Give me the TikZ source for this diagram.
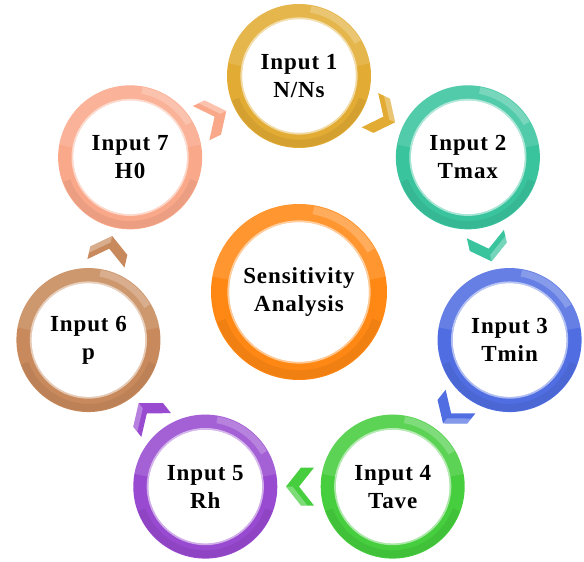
\documentclass[tikz,border=0pt]{standalone}
\usepackage{fontspec}
\setmainfont{Liberation Serif}
\newfontfamily\lblfont{Liberation Serif}[LetterSpace=4]
\usetikzlibrary{calc}
\definecolor{cGold}{RGB}{226,172,52}
\definecolor{cTeal}{RGB}{58,196,158}
\definecolor{cBlue}{RGB}{80,110,226}
\definecolor{cGreen}{RGB}{70,206,62}
\definecolor{cPurple}{RGB}{152,74,208}
\definecolor{cBrown}{RGB}{200,138,92}
\definecolor{cSalmon}{RGB}{250,168,138}
\definecolor{cOrange}{RGB}{255,136,20}
\begin{document}
\begin{tikzpicture}[x=1pt,y=1pt,
  ringnode/.style={circle, draw=#1, fill=white, line width=15pt, minimum size=129pt,
    inner sep=0pt, align=center, text=black,
    font=\lblfont\fontsize{23}{28}\selectfont\bfseries},
  chev/.pic={\fill[#1] (-15,-19) -- (0,0) -- (-15,19) -- (-2,19) -- (13,0) -- (-2,-19) -- cycle;
             \fill[white,opacity=0.3] (-2,19) -- (13,0) -- (6.5,0) -- (-8.5,19) -- cycle;},
]
\useasboundingbox (0,0) rectangle (584,562);
\coordinate (C) at (299,270);
\node[ringnode=cGold]   (n1) at ($(C)+(90:216)$) {Input 1\\N/Ns};
\node[ringnode=cTeal]   (n2) at ($(C)+(38.5714:216)$) {Input 2\\Tmax};
\node[ringnode=cBlue]   (n3) at ($(C)+(-12.8571:216)$) {Input 3\\Tmin};
\node[ringnode=cGreen]  (n4) at ($(C)+(-64.2857:216)$) {Input 4\\Tave};
\node[ringnode=cPurple] (n5) at ($(C)+(-115.7143:216)$) {Input 5\\Rh};
\node[ringnode=cBrown]  (n6) at ($(C)+(-167.1429:216)$) {Input 6\\p};
\node[ringnode=cSalmon] (n7) at ($(C)+(141.4286:216)$) {Input 7\\H0};
\node[ringnode=cOrange, line width=18pt, minimum size=158pt] (c0) at (C) {Sensitivity\\Analysis};
% gloss on rings
\foreach \n/\r/\w in {n1/64.5/15,n2/64.5/15,n3/64.5/15,n4/64.5/15,n5/64.5/15,n6/64.5/15,n7/64.5/15,c0/79/18} {
  \draw[white, opacity=0.12, line width=\w*1pt] (\n.center) ++(10:\r) arc[start angle=10, end angle=170, radius=\r];
  \draw[white, opacity=0.22, line width=\w*0.45pt] (\n.center) ++(30:\r+\w*0.22) arc[start angle=30, end angle=80, radius=\r+\w*0.22];
  \draw[black, opacity=0.06, line width=\w*0.5pt] (\n.center) ++(200:\r+\w*0.2) arc[start angle=200, end angle=340, radius=\r+\w*0.2];
  \draw[white, opacity=0.55, line width=1.6pt] (\n.center) circle[radius=\r-\w/2+0.8];
}
% chevrons between consecutive inputs
\foreach \a/\b/\col [count=\k from 0] in {n1/n2/cGold,n2/n3/cTeal,n3/n4/cBlue,n4/n5/cGreen,n5/n6/cPurple,n6/n7/cBrown,n7/n1/cSalmon} {
  \pgfmathsetmacro\ang{64.2857-51.4286*\k-90}
  \pic[rotate=\ang] at ($(\a)!0.5!(\b)$) {chev=\col};
}
\end{tikzpicture}
\end{document}
